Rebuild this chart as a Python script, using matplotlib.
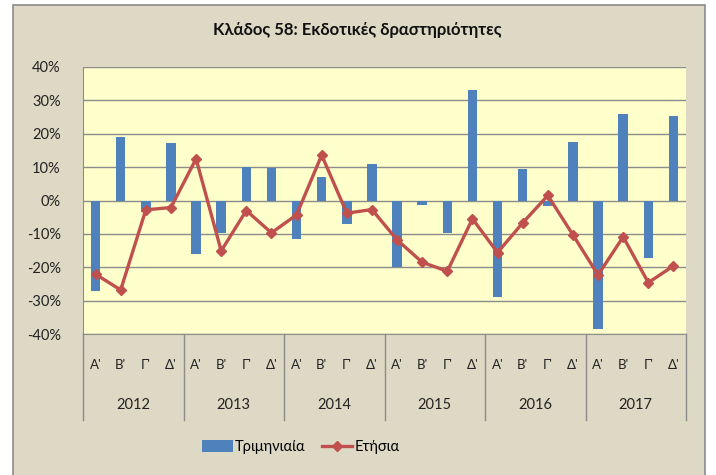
import matplotlib
matplotlib.use("Agg")
import matplotlib.pyplot as plt
import matplotlib.transforms as mtransforms
from matplotlib.patches import Rectangle
from matplotlib.lines import Line2D
import numpy as np

plt.rcParams['font.family'] = ['Lato', 'Noto Sans', 'DejaVu Sans']

years = ["2012", "2013", "2014", "2015", "2016", "2017"]
quarters = ["Α'", "Β'", "Γ'", "Δ'"]
quarterly = [-27.0, 18.9, -3.5, 17.3,
             -16.1, -9.8, 10.1, 9.7,
             -11.6, 6.9, -6.9, 10.8,
             -19.9, -1.2, -9.8, 33.2,
             -28.8, 9.5, -1.7, 17.6,
             -38.4, 25.9, -17.1, 25.3]
annual = [-22.1, -26.8, -2.8, -2.1,
          12.5, -15.1, -3.0, -9.7,
          -4.3, 13.6, -3.8, -2.7,
          -11.8, -18.5, -21.2, -5.5,
          -15.6, -6.7, 1.5, -10.3,
          -22.3, -10.9, -24.6, -19.6]
title = "Κλάδος 58: Εκδοτικές δραστηριότητες"
series_names = ["Τριμηνιαία", "Ετήσια"]

W, H = 716, 475
fig = plt.figure(figsize=(W / 100, H / 100), dpi=100, facecolor='white')

# chart area frame
fig.patches.append(Rectangle((13 / W, -0.01), (705 - 13) / W, (475 - 5) / H + 0.01,
                             transform=fig.transFigure, facecolor='#DDD9C4',
                             edgecolor='#8C8C8C', linewidth=1.2, zorder=-10))

left, right, top, bottom = 83, 686, 67, 334
ax = fig.add_axes([left / W, 1 - bottom / H, (right - left) / W, (bottom - top) / H])
ax.set_facecolor('#FFFFCC')
ax.set_zorder(1)

x = np.arange(len(quarterly))
bars = ax.bar(x, quarterly, width=0.38, color='#4F81BD', zorder=2, label=series_names[0])
line, = ax.plot(x, annual, color='#C0504D', linewidth=2.4, marker='D', markersize=5.5,
                zorder=3, label=series_names[1])

ax.set_xlim(-0.5, len(quarterly) - 0.5)
ax.set_ylim(-40, 40)
ax.set_yticks(np.arange(-40, 41, 10))
ax.set_yticklabels([f"{v}%" for v in range(-40, 41, 10)], fontsize=10.5, color='#222222')
ax.tick_params(axis='y', length=0, pad=16)
ax.set_xticks([])
ax.grid(axis='y', color='#8C8C8C', linewidth=1.0, zorder=1)
ax.set_axisbelow(True)
for s in ['top', 'right']:
    ax.spines[s].set_visible(False)
ax.spines['left'].set_color('#8C8C8C')
ax.spines['bottom'].set_color('#8C8C8C')

trans = mtransforms.blended_transform_factory(ax.transData, ax.transAxes)
ph = bottom - top
for i in range(len(quarterly)):
    ax.text(x[i], -31 / ph, quarters[i % 4], transform=trans, ha='center', va='center',
            fontsize=9.5, color='#222222')
for j, yr in enumerate(years):
    ax.text(j * 4 + 1.5, -71 / ph, yr, transform=trans, ha='center', va='center',
            fontsize=10.5, color='#222222')
for k in range(len(years) + 1):
    ax.add_line(Line2D([k * 4 - 0.5, k * 4 - 0.5], [0, -86 / ph], transform=trans,
                       color='#8C8C8C', linewidth=1.0, clip_on=False))

fig.text(357 / W, 1 - 30 / H, title, ha='center', va='center', fontsize=12,
         fontweight='bold', color='#111111')

fig.legend([bars, line], series_names, loc='center', bbox_to_anchor=(301 / W, 1 - 447 / H),
           ncol=2, frameon=False, fontsize=10.5, handlelength=2.1, handleheight=0.8,
           handletextpad=0.15, columnspacing=1.1)

fig.savefig("out.png", dpi=100, facecolor='white')
